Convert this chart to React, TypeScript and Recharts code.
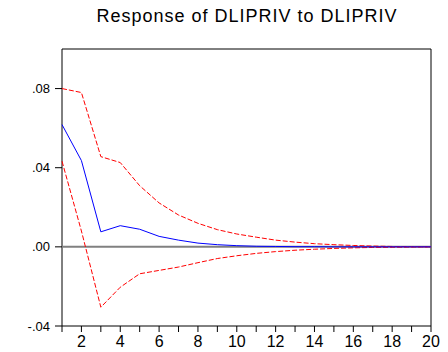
import React from 'react';
import { LineChart, Line, XAxis, YAxis, ReferenceLine, ReferenceArea } from 'recharts';

// impulse response horizon 1..20
const periods = [1, 2, 3, 4, 5, 6, 7, 8, 9, 10, 11, 12, 13, 14, 15, 16, 17, 18, 19, 20];
const response = [0.0618, 0.0436, 0.0076, 0.0107, 0.0089, 0.0053, 0.0034, 0.0019, 0.0011, 0.0006, 0.0003, 0.0002, 0.0001, 0.0001, 0, 0, 0, 0, 0, 0];
const upperBand = [0.080, 0.078, 0.0456, 0.0426, 0.0309, 0.0222, 0.0161, 0.0119, 0.0087, 0.0065, 0.0049, 0.0034, 0.0024, 0.0016, 0.0011, 0.0007, 0.0004, 0.0002, 0.0001, 0];
const lowerBand = [0.0433, 0.008, -0.0305, -0.0204, -0.0136, -0.0119, -0.0102, -0.0080, -0.0059, -0.0045, -0.0033, -0.0024, -0.0017, -0.0012, -0.0008, -0.0005, -0.0003, -0.0002, -0.0001, 0];
const yTicks = [-0.04, 0, 0.04, 0.08];

const data = periods.map((p, i) => ({
    period: p,
    response: response[i],
    upper: upperBand[i],
    lower: lowerBand[i],
}));

const fmtY = (v: number) => v.toFixed(2).replace('0.', '.');
const fmtX = (v: number) => (v % 2 === 0 ? String(v) : '');

export default function App() {
    return (
        <div style={{ position: 'absolute', left: 0, top: 0, width: 448, height: 352, background: '#fff', fontFamily: '"Liberation Sans", Arial, sans-serif' }}>
            <div style={{ position: 'absolute', left: 62, width: 370, top: 6, textAlign: 'center', fontSize: 18, letterSpacing: 1, color: '#000' }}>
                Response of DLIPRIV to DLIPRIV
            </div>
            <LineChart width={448} height={352} data={data} margin={{ top: 49, right: 17, left: 0, bottom: 0 }}>
                <XAxis
                    dataKey="period"
                    type="number"
                    domain={[1, 20]}
                    ticks={periods}
                    tickFormatter={fmtX}
                    interval={0}
                    height={26}
                    axisLine={false}
                    tickLine={{ stroke: '#000' }}
                    tickSize={6}
                    tickMargin={4}
                    tick={{ fontSize: 16, fill: '#000' }}
                />
                <YAxis
                    type="number"
                    domain={[-0.04, 0.1]}
                    ticks={yTicks}
                    tickFormatter={fmtY}
                    width={62}
                    axisLine={false}
                    tickLine={{ stroke: '#000' }}
                    tickSize={7}
                    tickMargin={5}
                    tick={{ fontSize: 13, fill: '#000' }}
                />
                <ReferenceArea x1={1} x2={20} y1={-0.04} y2={0.1} fill="none" stroke="#000" strokeWidth={1} />
                <ReferenceLine y={0} stroke="#808080" strokeWidth={2} />
                <Line type="linear" dataKey="upper" stroke="#ff0000" strokeDasharray="5 2" strokeWidth={1} dot={false} isAnimationActive={false} />
                <Line type="linear" dataKey="lower" stroke="#ff0000" strokeDasharray="5 2" strokeWidth={1} dot={false} isAnimationActive={false} />
                <Line type="linear" dataKey="response" stroke="#0000ff" strokeWidth={1} dot={false} isAnimationActive={false} />
            </LineChart>
        </div>
    );
}
